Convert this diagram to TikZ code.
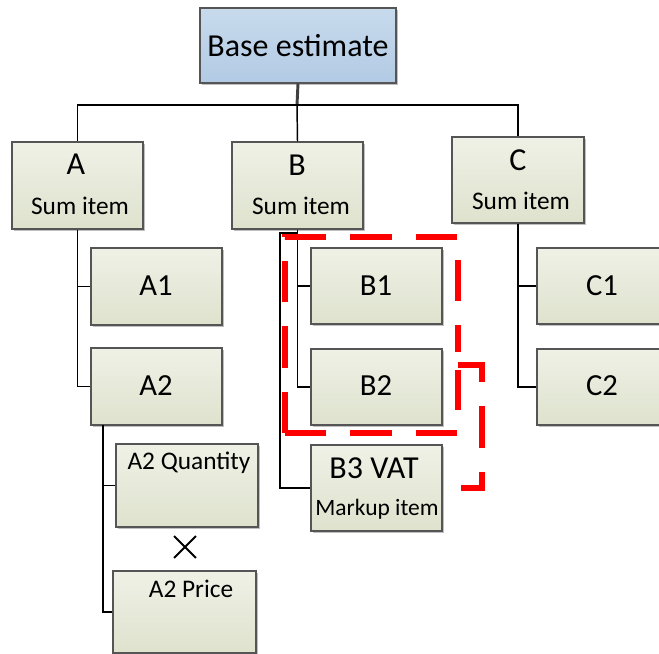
\documentclass[tikz,border=0pt]{standalone}
\usepackage{fontspec}
\setmainfont{Carlito}
\usetikzlibrary{shadows}
\definecolor{boxtop}{RGB}{239,241,230}
\definecolor{boxbot}{RGB}{222,226,205}
\definecolor{basetop}{RGB}{200,219,237}
\definecolor{basebot}{RGB}{178,202,228}
\definecolor{boxedge}{RGB}{85,85,85}
\tikzset{
  itembox/.style={draw=boxedge, line width=0.8pt, top color=boxtop, bottom color=boxbot,
    inner sep=0pt, drop shadow={shadow xshift=1.5pt, shadow yshift=-1.5pt, opacity=0.25, fill=black}},
  basebox/.style={itembox, top color=basetop, bottom color=basebot},
  link/.style={line width=1.1pt, black},
  groupmark/.style={draw=red, line width=3.8pt, dash pattern=on 31pt off 18pt},
  bigtxt/.style={font=\fontsize{24}{27}\selectfont, inner sep=0pt},
  childtxt/.style={font=\fontsize{23}{26}\selectfont, inner sep=0pt},
  smalltxt/.style={font=\fontsize{19}{22}\selectfont, inner sep=0pt},
  markuptxt/.style={font=\fontsize{17.6}{20}\selectfont, inner sep=0pt}
}
\begin{document}
\begin{tikzpicture}[x=0.75pt,y=-0.75pt]
\useasboundingbox (0,0) rectangle (659,653);

% boxes
\node[basebox, minimum width=147pt, minimum height=56.25pt] (base) at (298,45.5) {};
\node[itembox, minimum width=98.25pt, minimum height=65.25pt] (A) at (77.5,185.5) {};
\node[itembox, minimum width=98.25pt, minimum height=65.25pt] (B) at (297.5,185.5) {};
\node[itembox, minimum width=99pt, minimum height=64.5pt] (C) at (518,180) {};
\node[itembox, minimum width=98.25pt, minimum height=57.75pt] (A1) at (156.5,286.5) {};
\node[itembox, minimum width=98.25pt, minimum height=57.75pt] (A2) at (156.5,386.5) {};
\node[itembox, minimum width=106.5pt, minimum height=62.25pt] (AQ) at (187,485.5) {};
\node[itembox, minimum width=107.25pt, minimum height=61.5pt] (AP) at (184.5,612) {};
\node[itembox, minimum width=98.25pt, minimum height=57pt] (B1) at (376.5,286) {};
\node[itembox, minimum width=98.25pt, minimum height=57pt] (B2) at (376.5,387) {};
\node[itembox, minimum width=98.25pt, minimum height=64.5pt] (B3) at (376.5,488) {};
\node[itembox, minimum width=98.25pt, minimum height=57pt] (C1) at (602.5,286) {};
\node[itembox, minimum width=98.25pt, minimum height=57pt] (C2) at (602.5,387) {};

% labels
\node[bigtxt] (tbase) at (298,45.5) {Base estimate};
\node[bigtxt] (tA) at (76,164) {A};
\node[smalltxt] (sA) at (80,206) {Sum item};
\node[bigtxt] (tB) at (297,165) {B};
\node[smalltxt] (sB) at (301,206) {Sum item};
\node[bigtxt] (tC) at (518,160) {C};
\node[smalltxt] (sC) at (521,201) {Sum item};
\node[childtxt] (tA1) at (156,286) {A1};
\node[childtxt] (tA2) at (156,386) {A2};
\node[childtxt] (tB1) at (376,286) {B1};
\node[childtxt] (tB2) at (376,386) {B2};
\node[childtxt] (tC1) at (602,286) {C1};
\node[childtxt] (tC2) at (602,386) {C2};
\node[bigtxt] (tB3) at (374,468) {B3 VAT};
\node[markuptxt] (sB3) at (377,509) {Markup item};
\node[smalltxt] (tAQ) at (189,463) {A2 Quantity};
\node[smalltxt] (tAP) at (191,589) {A2 Price};

% multiplication sign between quantity and price
\node[inner sep=0pt, minimum size=16pt] (times) at (185,547) {};
\draw[line width=1.5pt] (times.north west) -- (times.south east)
  (times.north east) -- (times.south west);

% top-level connectors
\coordinate (bus) at (297,105);
\draw[line width=2.2pt, black!75] (base.south) -- (bus);
\draw[link] (A.north) |- (bus) -| (C.north);
\draw[link] (bus) -- (B.north);

% branch A
\draw[link] (A.south) |- (A1.west);
\draw[link] (A.south) |- (A2.west);
\coordinate (A2s) at (103,425);
\draw[link] (A2s) |- (AQ.west);
\draw[link] (A2s) |- (AP.west);

% branch B
\draw[link] (B.south) |- (B1.west);
\draw[link] (B.south) |- (B2.west);
\coordinate (Bj) at (297,233);
\coordinate (Bk) at (280,233);
\draw[link] (Bj) -- (Bk) |- (B3.west);

% branch C
\draw[link] (C.south) |- (C1.west);
\draw[link] (C.south) |- (C2.west);

% highlighted group around B1 and B2
\draw[groupmark] (285,433) -- (285,237) -- (458,237) -- (458,352);
\draw[groupmark] (285,433) -- (458,433) -- (458,370);
\draw[groupmark] (458,365) -- (482,365) -- (482,488) -- (461,488);
\end{tikzpicture}
\end{document}
